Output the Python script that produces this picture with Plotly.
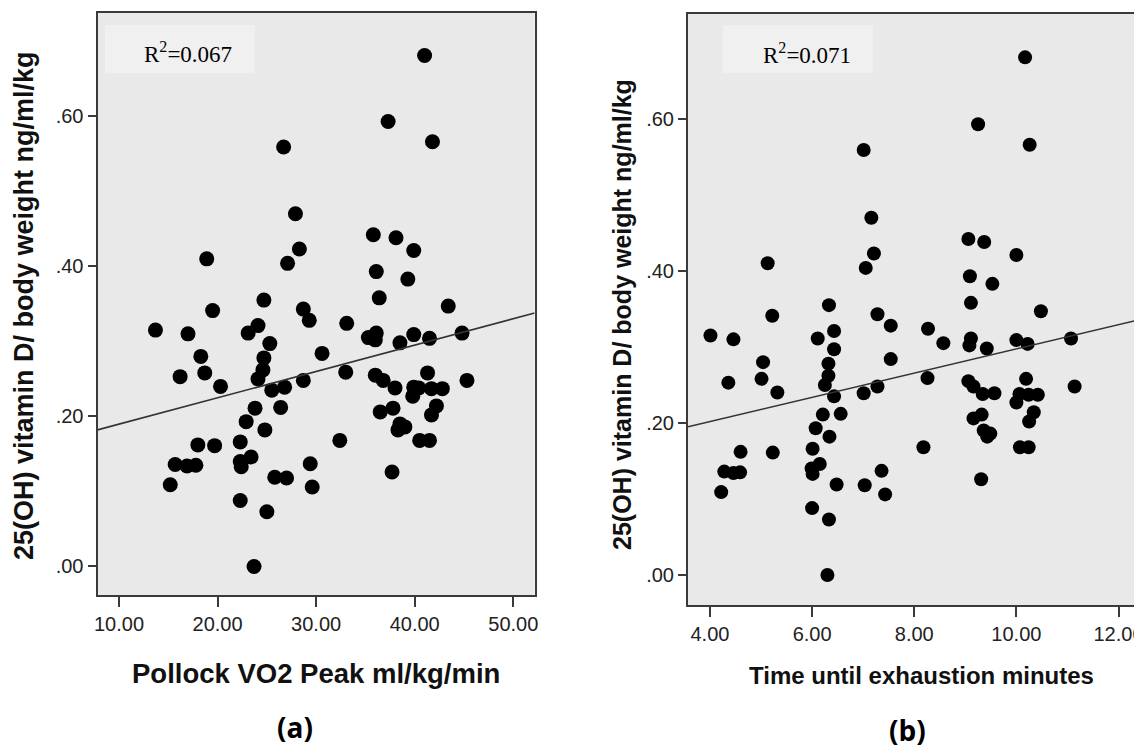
import plotly.graph_objects as go

# 25(OH) vitamin D / body weight (same subjects in both panels)
vitd = [0.681, 0.593, 0.566, 0.559, 0.470, 0.442, 0.438, 0.421, 0.423, 0.404,
        0.410, 0.393, 0.383,
        0.355, 0.341, 0.343, 0.328, 0.315, 0.310, 0.321, 0.311, 0.297, 0.280,
        0.278, 0.284, 0.253, 0.258, 0.262, 0.250, 0.240, 0.235, 0.239, 0.248,
        0.211, 0.212, 0.193, 0.182, 0.166, 0.162, 0.161, 0.136, 0.134, 0.135,
        0.146, 0.140, 0.133, 0.119, 0.118, 0.137, 0.106, 0.109, 0.088, 0.073,
        0.000,
        0.358, 0.347, 0.324, 0.305, 0.311, 0.302, 0.298, 0.309, 0.304, 0.311,
        0.259, 0.255, 0.248, 0.238, 0.258, 0.248, 0.239, 0.238, 0.237, 0.237,
        0.227, 0.206, 0.211, 0.190, 0.186, 0.182, 0.214, 0.202, 0.168, 0.168,
        0.168, 0.126]

# Pollock VO2 peak ml/kg/min
vo2 = [41.0, 37.3, 41.8, 26.7, 27.9, 35.8, 38.1, 39.9, 28.3, 27.1,
       18.9, 36.1, 39.3,
       24.7, 19.5, 28.7, 29.3, 13.7, 17.0, 24.1, 23.1, 25.3, 18.3,
       24.7, 30.6, 16.2, 18.7, 24.6, 24.1, 20.3, 25.5, 26.8, 28.7,
       23.8, 26.4, 22.9, 24.8, 22.3, 18.0, 19.7, 15.7, 16.9, 17.8,
       23.4, 22.3, 22.4, 25.8, 27.0, 29.4, 29.6, 15.2, 22.3, 25.0,
       23.7,
       36.4, 43.4, 33.1, 35.3, 36.1, 36.0, 38.5, 39.9, 41.5, 44.8,
       33.0, 36.0, 36.8, 38.0, 41.3, 45.3, 39.9, 40.4, 41.7, 42.8,
       39.8, 36.5, 37.8, 38.5, 39.0, 38.3, 42.2, 41.7, 32.4, 40.5,
       41.5, 37.7]

# Time until exhaustion, minutes
tte = [10.17, 9.25, 10.26, 7.01, 7.16, 9.06, 9.37, 10.00, 7.21, 7.05,
       5.13, 9.09, 9.53,
       6.33, 5.22, 7.28, 7.54, 4.01, 4.46, 6.43, 6.11, 6.43, 5.04,
       6.32, 7.54, 4.36, 5.01, 6.32, 6.25, 5.32, 6.43, 7.01, 7.28,
       6.21, 6.56, 6.07, 6.34, 6.01, 4.60, 5.23, 4.28, 4.46, 4.59,
       6.15, 5.99, 6.01, 6.48, 7.03, 7.36, 7.43, 4.22, 6.00, 6.33,
       6.30,
       9.11, 10.48, 8.27, 8.57, 9.11, 9.08, 9.42, 10.00, 10.22, 11.07,
       8.26, 9.06, 9.16, 9.34, 10.19, 11.14, 9.57, 10.06, 10.24, 10.42,
       10.00, 9.16, 9.32, 9.36, 9.49, 9.43, 10.34, 10.25, 8.18, 10.07,
       10.24, 9.31]

# fit lines (intercept, slope)
fit_a = (0.1546, 0.00351)
fit_b = (0.138, 0.01594)
r2_a = "0.067"
r2_b = "0.071"

yticks = [0.0, 0.2, 0.4, 0.6]
yticktext = [".00", ".20", ".40", ".60"]

xrange_a = [7.82, 52.16]
xrange_b = [3.57, 12.44]
yrange_a = [-0.038, 0.738]
yrange_b = [-0.0395, 0.738]

# page has an 8px body margin, so the figure is sized to fit the window
W, H, OFF = 1134, 740, 8


def fx(px):
    return (px - OFF) / W


def fy(py):
    return 1 - (py - OFF) / H


BG = "#e9e9e9"
FRAME = "#3a3a3a"
TICKFONT = dict(family="Liberation Sans, Arial, sans-serif", size=20, color="#222")

fig = go.Figure()

fig.add_trace(go.Scatter(x=vo2, y=vitd, mode="markers", xaxis="x", yaxis="y",
                         marker=dict(size=15, color="black"), showlegend=False))
fig.add_trace(go.Scatter(x=xrange_a, y=[fit_a[0] + fit_a[1] * v for v in xrange_a],
                         mode="lines", xaxis="x", yaxis="y",
                         line=dict(color="#333", width=1.6), showlegend=False))
fig.add_trace(go.Scatter(x=tte, y=vitd, mode="markers", xaxis="x2", yaxis="y2",
                         marker=dict(size=14, color="black"), showlegend=False))
fig.add_trace(go.Scatter(x=xrange_b, y=[fit_b[0] + fit_b[1] * v for v in xrange_b],
                         mode="lines", xaxis="x2", yaxis="y2",
                         line=dict(color="#333", width=1.6), showlegend=False))

axis_common = dict(showgrid=False, zeroline=False, showline=True, mirror=True,
                   linecolor=FRAME, linewidth=2, ticks="outside", tickcolor=FRAME,
                   tickwidth=1.5, tickfont=TICKFONT, automargin=False,
                   ticklabeloverflow="allow")

fig.update_layout(
    width=W, height=H,
    margin=dict(l=0, r=0, t=0, b=0, autoexpand=False),
    paper_bgcolor="white",
    plot_bgcolor=BG,
    xaxis=dict(domain=[fx(97.5), fx(534.6)], range=xrange_a, tickvals=[10, 20, 30, 40, 50],
               tickformat=".2f", ticklen=10, anchor="y", **axis_common),
    yaxis=dict(domain=[fy(595), fy(12.7)], range=yrange_a, tickvals=yticks, ticktext=yticktext,
               ticklen=8, anchor="x", **axis_common),
    xaxis2=dict(domain=[fx(688), fx(1141)], range=xrange_b, tickvals=[4, 6, 8, 10, 12],
                tickformat=".2f", ticklen=10, anchor="y2", **axis_common),
    yaxis2=dict(domain=[fy(605), fy(14)], range=yrange_b, tickvals=yticks, ticktext=yticktext,
                ticklen=8, anchor="x2", **axis_common),
)

# R2 boxes
fig.add_shape(type="rect", xref="x domain", yref="y domain", x0=0.017, x1=0.36, y0=0.896, y1=0.979,
              fillcolor="#f0f0f0", line=dict(width=0), layer="below")
fig.add_shape(type="rect", xref="x2 domain", yref="y2 domain", x0=0.077, x1=0.408, y0=0.900, y1=0.981,
              fillcolor="#f0f0f0", line=dict(width=0), layer="below")

serif = dict(family="Liberation Serif, Times New Roman, serif", size=23, color="black")
fig.add_annotation(xref="x domain", yref="y domain", x=0.101, y=0.931, xanchor="left", yanchor="middle",
                   text="R<sup>2</sup>=" + r2_a, showarrow=False, font=serif)
fig.add_annotation(xref="x2 domain", yref="y2 domain", x=0.161, y=0.934, xanchor="left", yanchor="middle",
                   text="R<sup>2</sup>=" + r2_b, showarrow=False, font=serif)

bold = "Liberation Sans, Arial, sans-serif"
# axis titles
fig.add_annotation(xref="paper", yref="paper", x=fx(316), y=fy(673), xanchor="center", yanchor="middle",
                   text="<b>Pollock VO2 Peak ml/kg/min</b>",
                   showarrow=False, font=dict(family=bold, size=27.5, color="#111"))
fig.add_annotation(xref="paper", yref="paper", x=fx(921), y=fy(675), xanchor="center", yanchor="middle",
                   text="<b>Time until exhaustion minutes</b>",
                   showarrow=False, font=dict(family=bold, size=24, color="#111"))
fig.add_annotation(xref="paper", yref="paper", x=fx(24), y=fy(306), xanchor="center", yanchor="middle",
                   textangle=-90, text="<b>25(OH) vitamin D/ body weight ng/ml/kg</b>",
                   showarrow=False, font=dict(family=bold, size=27, color="#111"))
fig.add_annotation(xref="paper", yref="paper", x=fx(622), y=fy(315), xanchor="center", yanchor="middle",
                   textangle=-90, text="<b>25(OH) vitamin D/ body weight ng/ml/kg</b>",
                   showarrow=False, font=dict(family=bold, size=25, color="#111"))
# panel labels
fig.add_annotation(xref="paper", yref="paper", x=fx(295), y=fy(727), xanchor="center", yanchor="middle",
                   text="<b>(a)</b>",
                   showarrow=False, font=dict(family="Open Sans, sans-serif", size=28, color="black"))
fig.add_annotation(xref="paper", yref="paper", x=fx(907), y=fy(730), xanchor="center", yanchor="middle",
                   text="<b>(b)</b>",
                   showarrow=False, font=dict(family="Open Sans, sans-serif", size=28, color="black"))

fig.write_html("out.html")
